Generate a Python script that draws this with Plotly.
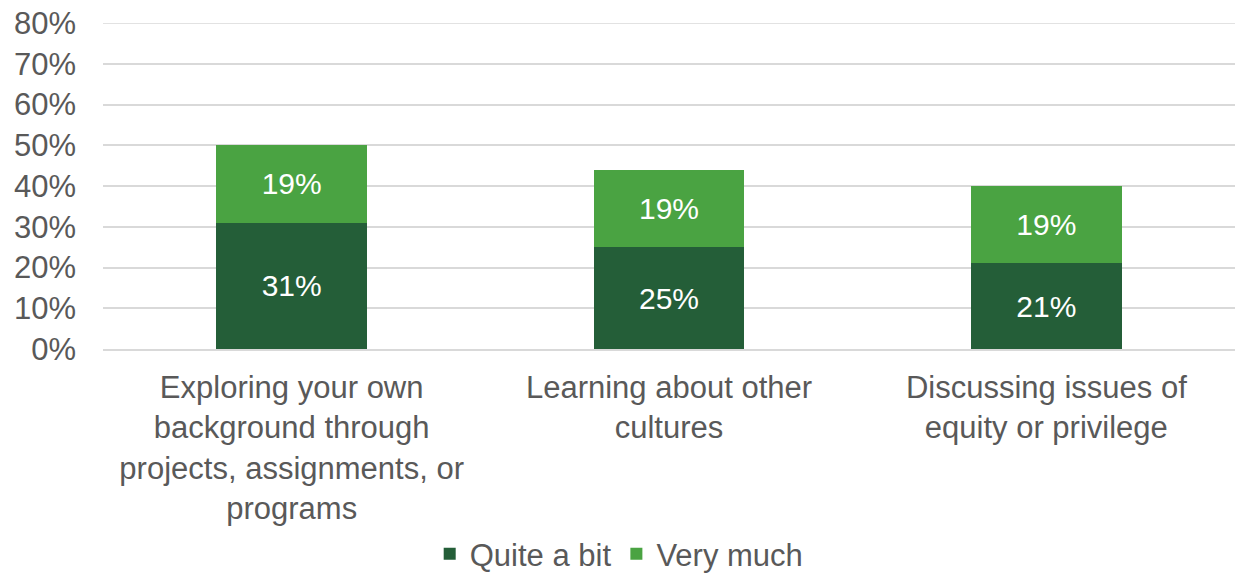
import plotly.graph_objects as go

categories = [
    "Exploring your own<br>background through<br>projects, assignments, or<br>programs",
    "Learning about other<br>cultures",
    "Discussing issues of<br>equity or privilege",
]
quite_a_bit = [31, 25, 21]
very_much = [19, 19, 19]
y_ticks = [0, 10, 20, 30, 40, 50, 60, 70, 80]
y_tick_labels = ["0%", "10%", "20%", "30%", "40%", "50%", "60%", "70%", "80%"]

FONT = "Liberation Sans, Arial, sans-serif"
GRID = "#D9D9D9"
fig = go.Figure()
fig.add_trace(go.Bar(
    name="Quite a bit", x=categories, y=quite_a_bit,
    marker=dict(color="#245E38", line=dict(width=0)),
    text=[f"{v}%" for v in quite_a_bit], texttemplate="%{text}",
    textposition="inside", insidetextanchor="middle",
    textfont=dict(color="white", size=30, family=FONT),
))
fig.add_trace(go.Bar(
    name="Very much", x=categories, y=very_much,
    marker=dict(color="#4AA342", line=dict(width=0)),
    text=[f"{v}%" for v in very_much], texttemplate="%{text}",
    textposition="inside", insidetextanchor="middle",
    textfont=dict(color="white", size=30, family=FONT),
))
fig.update_layout(
    barmode="stack", bargap=0.6,
    width=1237, height=573,
    margin=dict(l=103, r=2, t=23, b=224),
    paper_bgcolor="white", plot_bgcolor="white",
    font=dict(family=FONT, size=31, color="#595959"),
    showlegend=True,
    legend=dict(orientation="h", x=0.456, xanchor="center",
                yref="container", y=0.033, yanchor="middle",
                font=dict(size=31, color="#595959"), traceorder="normal",
                itemwidth=30, tracegroupgap=0),
    uniformtext=dict(mode="show", minsize=30),
    hovermode=False,
)
# top gridline at the last tick (plotly culls gridlines at the range edge)
fig.add_shape(type="line", xref="paper", yref="y", x0=0, x1=1,
              y0=y_ticks[-1], y1=y_ticks[-1], line=dict(color=GRID, width=1.5),
              layer="below")
fig.update_yaxes(range=[y_ticks[0], y_ticks[-1]], tickmode="array", tickvals=y_ticks,
                 ticktext=y_tick_labels,
                 showgrid=True, gridcolor=GRID, gridwidth=1.5, automargin=False,
                 zeroline=False, showline=False, ticklabelstandoff=26,
                 tickfont=dict(size=31, color="#595959"))
fig.update_xaxes(showline=True, linecolor=GRID, linewidth=1.5, automargin=False,
                 ticklabelstandoff=10, tickfont=dict(size=31, color="#595959"))
fig.write_html("out.html", config={"displayModeBar": False},
               post_script="document.body.style.margin='0';")
